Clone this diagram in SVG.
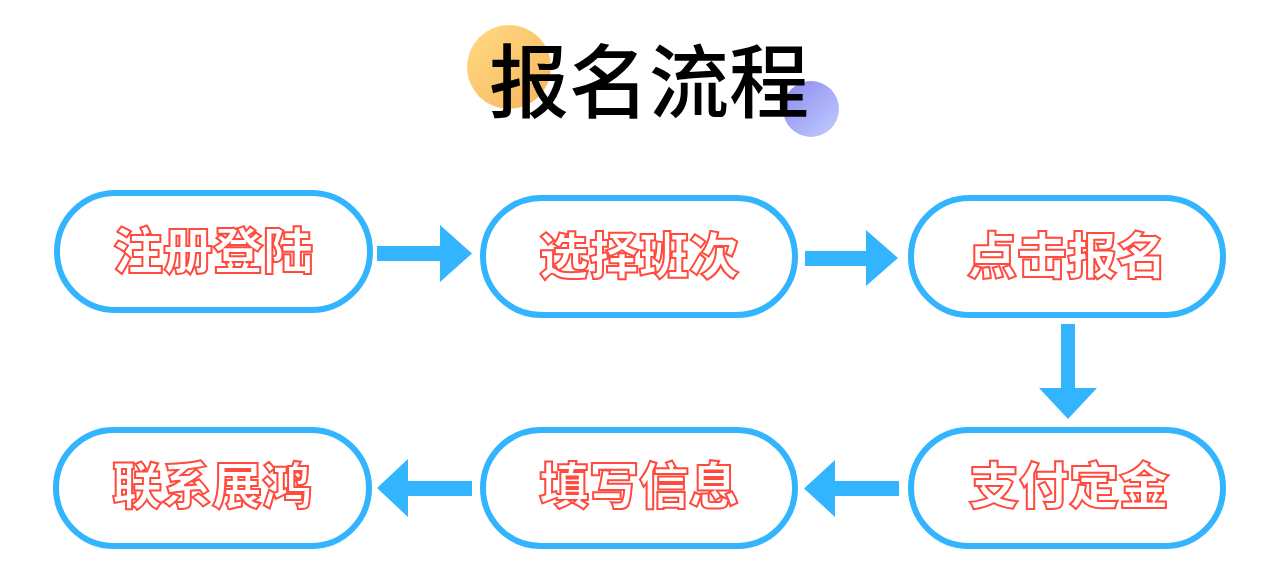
<svg xmlns="http://www.w3.org/2000/svg" width="1279" height="586" viewBox="0 0 1279 586">
<defs>
<linearGradient id="gOrange" x1="0" y1="0" x2="1" y2="1">
<stop offset="0" stop-color="#FFDB83"/>
<stop offset="1" stop-color="#F7B45C"/>
</linearGradient>
<linearGradient id="gPurple" x1="0" y1="0" x2="1" y2="1">
<stop offset="0" stop-color="#8A88EE"/>
<stop offset="1" stop-color="#C3CEFF"/>
</linearGradient>
<style>
.node rect{fill:#FFFFFF;stroke:#33B4FF;stroke-width:6}
.node text{font-family:"Noto Sans CJK SC","Noto Sans",sans-serif;font-weight:900;font-size:50px;fill:#FFFFFF;stroke:#FF4A3D;stroke-width:2;text-anchor:middle}
.arrow{fill:#33B4FF}
.title{font-family:"Noto Sans CJK SC","Noto Sans",sans-serif;font-weight:500;font-size:80px;fill:#000000;text-anchor:middle}
</style>
</defs>
<rect width="1279" height="586" fill="#FFFFFF"/>
<g id="title">
<circle cx="509" cy="67" r="42" fill="url(#gOrange)"/>
<circle cx="811" cy="109" r="28" fill="url(#gPurple)"/>
<text class="title" x="649" y="111">报名流程</text>
</g>
<g id="connectors">
<polygon class="arrow" points="377,246 440,246 440,225 472,253.5 440,282 440,261 377,261"/>
<polygon class="arrow" points="805,251 866,251 866,230 898,258 866,286 866,266 805,266"/>
<polygon class="arrow" points="1061,324 1075,324 1075,388 1097,388 1068,419 1039,388 1061,388"/>
<polygon class="arrow" points="899,481 835,481 835,460 804,488.5 835,517 835,496 899,496"/>
<polygon class="arrow" points="472,481 408,481 408,459 377,488 408,517 408,496 472,496"/>
</g>
<g id="n1" class="node"><rect x="57" y="193" width="313" height="117" rx="58.5"/><text x="213" y="269">注册登陆</text></g>
<g id="n2" class="node"><rect x="483" y="198" width="312" height="117" rx="58.5"/><text x="639" y="274">选择班次</text></g>
<g id="n3" class="node"><rect x="911" y="198" width="312" height="117" rx="58.5"/><text x="1067" y="274">点击报名</text></g>
<g id="n4" class="node"><rect x="56" y="430" width="313" height="116" rx="58"/><text x="212" y="504">联系展鸿</text></g>
<g id="n5" class="node"><rect x="483" y="430" width="312" height="116" rx="58"/><text x="639" y="504">填写信息</text></g>
<g id="n6" class="node"><rect x="911" y="430" width="312" height="116" rx="58"/><text x="1069" y="504">支付定金</text></g>
</svg>
